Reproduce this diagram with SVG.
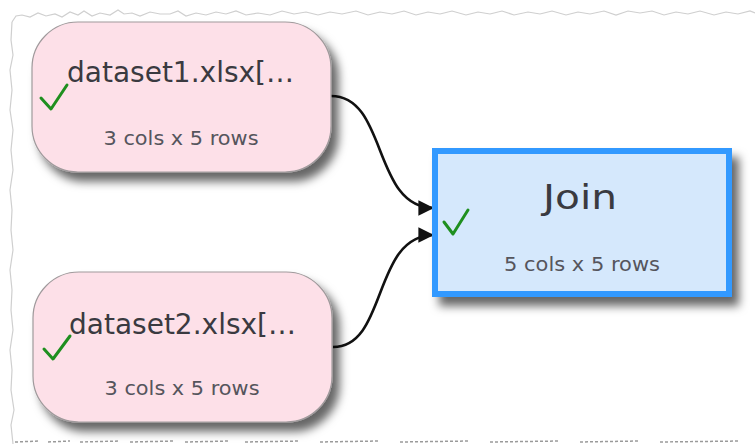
<svg xmlns="http://www.w3.org/2000/svg" width="755" height="444" viewBox="0 0 755 444">
  <defs>
    <filter id="shadow" x="-20%" y="-20%" width="150%" height="170%">
      <feDropShadow dx="7" dy="9" stdDeviation="5" flood-color="#000" flood-opacity="0.6"/>
    </filter>
    <marker id="arrow" viewBox="0 0 10 10" refX="10" refY="5" markerWidth="6" markerHeight="6" markerUnits="strokeWidth" orient="auto">
      <path d="M0,0 L10,5 L0,10 z" fill="#111"/>
    </marker>
  </defs>
  <style>
    .src { fill: #fde0e8; stroke: #a09a9c; stroke-width: 1.2; }
    .join { fill: #d5e8fc; stroke: #3399ff; stroke-width: 6; }
    .title { font-family: "DejaVu Sans", Verdana, sans-serif; fill: #3a3a40; }
    .sub { font-family: "DejaVu Sans", Verdana, sans-serif; fill: #55555c; font-size: 19px; }
    .check { fill: none; stroke: #1f8f1f; stroke-width: 3; stroke-linecap: round; stroke-linejoin: round; }
    .edge { fill: none; stroke: #111; stroke-width: 2.6; }
    .torn { fill: none; stroke: #cfcfcf; stroke-width: 1.2; }
  </style>
  <rect x="0" y="0" width="755" height="444" fill="#ffffff"/>
  <g id="torn-edges">
    <path class="torn" d="M12,22 L16,16 L22,15 L30,17 L38,13 L46,16 L55,14 L62,17 L70,12 L78,15 L84,11 L92,16 L100,13 L110,15 L118,10 L124,14 L132,13 L140,16 L150,12 L160,14 L170,14 L178,11 L186,16 L196,13 L206,15 L216,12 L226,14 L236,11 L246,15 L258,13 L270,15 L282,11 L294,14 L306,12 L318,15 L330,12 L342,14 L356,11 L368,15 L380,12 L392,14 L404,11 L416,15 L428,12 L440,14 L452,11 L466,15 L478,12 L490,14 L502,11 L514,15 L528,12 L540,14 L552,11 L566,15 L578,12 L590,14 L604,11 L616,15 L628,11 L640,13 L652,11 L664,15 L676,12 L688,14 L700,11 L714,15 L726,12 L738,14 L750,11 L755,13"/>
    <path class="torn" d="M12,22 L11,40 L13,55 L10,70 L12,90 L10,110 L13,130 L11,150 L13,170 L10,190 L12,210 L11,230 L13,250 L10,270 L12,290 L11,310 L13,330 L10,350 L12,370 L11,390 L14,410 L11,425 L13,444"/>
    <path d="M15,442 L40,441 M48,442 L70,441 M80,442 L120,441 M130,442 L175,441 M185,442 L230,441 M245,442 L300,441 M320,442 L380,441 M400,442 L470,441 M490,442 L560,441 M580,442 L640,441 M660,442 L740,441" fill="none" stroke="#9a9a9a" stroke-width="1.5" stroke-dasharray="3 2"/>
  </g>
  <g id="connectors">
    <path class="edge" d="M331,96 C388,96 372,208 434,208" marker-end="url(#arrow)"/>
    <path class="edge" d="M333,347 C388,347 372,235 434,235" marker-end="url(#arrow)"/>
  </g>
  <g id="node-dataset1">
    <rect class="src" x="32" y="22" width="299" height="150" rx="46" ry="46" filter="url(#shadow)"/>
    <text class="title" x="67" y="82" font-size="28" textLength="227" lengthAdjust="spacingAndGlyphs">dataset1.xlsx[…</text>
    <text class="sub" x="181" y="145" text-anchor="middle" textLength="155" lengthAdjust="spacingAndGlyphs">3 cols x 5 rows</text>
    <path class="check" d="M41,98 L51,109 L67,85"/>
  </g>
  <g id="node-dataset2">
    <rect class="src" x="33" y="272" width="299" height="150" rx="46" ry="46" filter="url(#shadow)"/>
    <text class="title" x="69" y="334" font-size="28" textLength="227" lengthAdjust="spacingAndGlyphs">dataset2.xlsx[…</text>
    <text class="sub" x="182" y="395" text-anchor="middle" textLength="155" lengthAdjust="spacingAndGlyphs">3 cols x 5 rows</text>
    <path class="check" d="M44,349 L53,359 L70,336"/>
  </g>
  <g id="node-join">
    <rect class="join" x="435" y="151" width="294" height="143" filter="url(#shadow)"/>
    <text class="title" x="580" y="209" font-size="34" text-anchor="middle" textLength="74" lengthAdjust="spacingAndGlyphs">Join</text>
    <text class="sub" x="582" y="271" text-anchor="middle" textLength="156" lengthAdjust="spacingAndGlyphs">5 cols x 5 rows</text>
    <path class="check" d="M444,222 L453,234 L468,210"/>
  </g>
</svg>
